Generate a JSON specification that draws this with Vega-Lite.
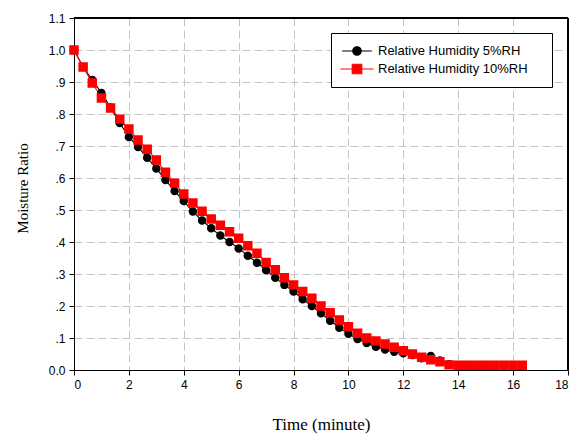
{
  "$schema": "https://vega.github.io/schema/vega-lite/v6.json",
  "autosize": {"type": "none"},
  "padding": {"left": 74, "top": 18, "right": 8, "bottom": 64},
  "width": 494,
  "height": 352,
  "background": "white",
  "config": {
    "view": {"stroke": "black", "strokeWidth": 1},
    "axis": {
      "domainColor": "black",
      "tickColor": "black",
      "tickSize": 5,
      "labelFont": "Liberation Sans",
      "labelFontSize": 12,
      "labelColor": "black",
      "titleFont": "Liberation Serif",
      "titleFontWeight": "normal",
      "titleColor": "black",
      "gridColor": "#c4c4c4",
      "gridDash": [8, 4],
      "gridWidth": 1
    },
    "legend": {
      "orient": "none",
      "legendX": 257,
      "legendY": 15,
      "padding": 10,
      "strokeColor": "black",
      "fillColor": "white",
      "cornerRadius": 0,
      "labelFont": "Liberation Sans",
      "labelFontSize": 13,
      "labelColor": "black",
      "labelLimit": 300,
      "symbolSize": 196,
      "symbolOffset": 7,
      "labelOffset": 12,
      "rowPadding": 2,
      "symbolStrokeWidth": 1.2
    }
  },
  "data": {
    "values": [
      {"t": 0, "mr": 1.0, "series": "Relative Humidity 5%RH"},
      {"t": 0.333, "mr": 0.947, "series": "Relative Humidity 5%RH"},
      {"t": 0.667, "mr": 0.906, "series": "Relative Humidity 5%RH"},
      {"t": 1.0, "mr": 0.866, "series": "Relative Humidity 5%RH"},
      {"t": 1.333, "mr": 0.82, "series": "Relative Humidity 5%RH"},
      {"t": 1.667, "mr": 0.772, "series": "Relative Humidity 5%RH"},
      {"t": 2.0, "mr": 0.728, "series": "Relative Humidity 5%RH"},
      {"t": 2.333, "mr": 0.697, "series": "Relative Humidity 5%RH"},
      {"t": 2.667, "mr": 0.663, "series": "Relative Humidity 5%RH"},
      {"t": 3.0, "mr": 0.63, "series": "Relative Humidity 5%RH"},
      {"t": 3.333, "mr": 0.594, "series": "Relative Humidity 5%RH"},
      {"t": 3.667, "mr": 0.559, "series": "Relative Humidity 5%RH"},
      {"t": 4.0, "mr": 0.528, "series": "Relative Humidity 5%RH"},
      {"t": 4.333, "mr": 0.495, "series": "Relative Humidity 5%RH"},
      {"t": 4.667, "mr": 0.467, "series": "Relative Humidity 5%RH"},
      {"t": 5.0, "mr": 0.443, "series": "Relative Humidity 5%RH"},
      {"t": 5.333, "mr": 0.42, "series": "Relative Humidity 5%RH"},
      {"t": 5.667, "mr": 0.4, "series": "Relative Humidity 5%RH"},
      {"t": 6.0, "mr": 0.38, "series": "Relative Humidity 5%RH"},
      {"t": 6.333, "mr": 0.357, "series": "Relative Humidity 5%RH"},
      {"t": 6.667, "mr": 0.335, "series": "Relative Humidity 5%RH"},
      {"t": 7.0, "mr": 0.312, "series": "Relative Humidity 5%RH"},
      {"t": 7.333, "mr": 0.288, "series": "Relative Humidity 5%RH"},
      {"t": 7.667, "mr": 0.266, "series": "Relative Humidity 5%RH"},
      {"t": 8.0, "mr": 0.245, "series": "Relative Humidity 5%RH"},
      {"t": 8.333, "mr": 0.221, "series": "Relative Humidity 5%RH"},
      {"t": 8.667, "mr": 0.2, "series": "Relative Humidity 5%RH"},
      {"t": 9.0, "mr": 0.177, "series": "Relative Humidity 5%RH"},
      {"t": 9.333, "mr": 0.154, "series": "Relative Humidity 5%RH"},
      {"t": 9.667, "mr": 0.132, "series": "Relative Humidity 5%RH"},
      {"t": 10.0, "mr": 0.113, "series": "Relative Humidity 5%RH"},
      {"t": 10.333, "mr": 0.097, "series": "Relative Humidity 5%RH"},
      {"t": 10.667, "mr": 0.084, "series": "Relative Humidity 5%RH"},
      {"t": 11.0, "mr": 0.073, "series": "Relative Humidity 5%RH"},
      {"t": 11.333, "mr": 0.064, "series": "Relative Humidity 5%RH"},
      {"t": 11.667, "mr": 0.057, "series": "Relative Humidity 5%RH"},
      {"t": 12.0, "mr": 0.052, "series": "Relative Humidity 5%RH"},
      {"t": 12.333, "mr": 0.047, "series": "Relative Humidity 5%RH"},
      {"t": 12.667, "mr": 0.037, "series": "Relative Humidity 5%RH"},
      {"t": 13.0, "mr": 0.044, "series": "Relative Humidity 5%RH"},
      {"t": 13.333, "mr": 0.03, "series": "Relative Humidity 5%RH"},
      {"t": 13.667, "mr": 0.018, "series": "Relative Humidity 5%RH"},
      {"t": 14.0, "mr": 0.014, "series": "Relative Humidity 5%RH"},
      {"t": 14.333, "mr": 0.014, "series": "Relative Humidity 5%RH"},
      {"t": 14.667, "mr": 0.014, "series": "Relative Humidity 5%RH"},
      {"t": 15.0, "mr": 0.014, "series": "Relative Humidity 5%RH"},
      {"t": 15.333, "mr": 0.014, "series": "Relative Humidity 5%RH"},
      {"t": 15.667, "mr": 0.014, "series": "Relative Humidity 5%RH"},
      {"t": 16.0, "mr": 0.014, "series": "Relative Humidity 5%RH"},
      {"t": 16.333, "mr": 0.014, "series": "Relative Humidity 5%RH"},
      {"t": 0, "mr": 1.0, "series": "Relative Humidity 10%RH"},
      {"t": 0.333, "mr": 0.947, "series": "Relative Humidity 10%RH"},
      {"t": 0.667, "mr": 0.897, "series": "Relative Humidity 10%RH"},
      {"t": 1.0, "mr": 0.85, "series": "Relative Humidity 10%RH"},
      {"t": 1.333, "mr": 0.819, "series": "Relative Humidity 10%RH"},
      {"t": 1.667, "mr": 0.784, "series": "Relative Humidity 10%RH"},
      {"t": 2.0, "mr": 0.753, "series": "Relative Humidity 10%RH"},
      {"t": 2.333, "mr": 0.719, "series": "Relative Humidity 10%RH"},
      {"t": 2.667, "mr": 0.69, "series": "Relative Humidity 10%RH"},
      {"t": 3.0, "mr": 0.656, "series": "Relative Humidity 10%RH"},
      {"t": 3.333, "mr": 0.618, "series": "Relative Humidity 10%RH"},
      {"t": 3.667, "mr": 0.584, "series": "Relative Humidity 10%RH"},
      {"t": 4.0, "mr": 0.55, "series": "Relative Humidity 10%RH"},
      {"t": 4.333, "mr": 0.522, "series": "Relative Humidity 10%RH"},
      {"t": 4.667, "mr": 0.496, "series": "Relative Humidity 10%RH"},
      {"t": 5.0, "mr": 0.472, "series": "Relative Humidity 10%RH"},
      {"t": 5.333, "mr": 0.452, "series": "Relative Humidity 10%RH"},
      {"t": 5.667, "mr": 0.432, "series": "Relative Humidity 10%RH"},
      {"t": 6.0, "mr": 0.412, "series": "Relative Humidity 10%RH"},
      {"t": 6.333, "mr": 0.388, "series": "Relative Humidity 10%RH"},
      {"t": 6.667, "mr": 0.365, "series": "Relative Humidity 10%RH"},
      {"t": 7.0, "mr": 0.336, "series": "Relative Humidity 10%RH"},
      {"t": 7.333, "mr": 0.313, "series": "Relative Humidity 10%RH"},
      {"t": 7.667, "mr": 0.288, "series": "Relative Humidity 10%RH"},
      {"t": 8.0, "mr": 0.266, "series": "Relative Humidity 10%RH"},
      {"t": 8.333, "mr": 0.245, "series": "Relative Humidity 10%RH"},
      {"t": 8.667, "mr": 0.224, "series": "Relative Humidity 10%RH"},
      {"t": 9.0, "mr": 0.2, "series": "Relative Humidity 10%RH"},
      {"t": 9.333, "mr": 0.179, "series": "Relative Humidity 10%RH"},
      {"t": 9.667, "mr": 0.156, "series": "Relative Humidity 10%RH"},
      {"t": 10.0, "mr": 0.135, "series": "Relative Humidity 10%RH"},
      {"t": 10.333, "mr": 0.115, "series": "Relative Humidity 10%RH"},
      {"t": 10.667, "mr": 0.1, "series": "Relative Humidity 10%RH"},
      {"t": 11.0, "mr": 0.091, "series": "Relative Humidity 10%RH"},
      {"t": 11.333, "mr": 0.081, "series": "Relative Humidity 10%RH"},
      {"t": 11.667, "mr": 0.071, "series": "Relative Humidity 10%RH"},
      {"t": 12.0, "mr": 0.06, "series": "Relative Humidity 10%RH"},
      {"t": 12.333, "mr": 0.05, "series": "Relative Humidity 10%RH"},
      {"t": 12.667, "mr": 0.04, "series": "Relative Humidity 10%RH"},
      {"t": 13.0, "mr": 0.032, "series": "Relative Humidity 10%RH"},
      {"t": 13.333, "mr": 0.026, "series": "Relative Humidity 10%RH"},
      {"t": 13.667, "mr": 0.016, "series": "Relative Humidity 10%RH"},
      {"t": 14.0, "mr": 0.015, "series": "Relative Humidity 10%RH"},
      {"t": 14.333, "mr": 0.015, "series": "Relative Humidity 10%RH"},
      {"t": 14.667, "mr": 0.015, "series": "Relative Humidity 10%RH"},
      {"t": 15.0, "mr": 0.015, "series": "Relative Humidity 10%RH"},
      {"t": 15.333, "mr": 0.015, "series": "Relative Humidity 10%RH"},
      {"t": 15.667, "mr": 0.015, "series": "Relative Humidity 10%RH"},
      {"t": 16.0, "mr": 0.015, "series": "Relative Humidity 10%RH"},
      {"t": 16.333, "mr": 0.015, "series": "Relative Humidity 10%RH"}
    ]
  },
  "encoding": {
    "x": {
      "field": "t", "type": "quantitative",
      "scale": {"domain": [0, 18], "nice": false, "zero": false},
      "axis": {"title": "Time (minute)", "titleFontSize": 17, "titlePadding": 26, "values": [0, 2, 4, 6, 8, 10, 12, 14, 16, 18], "labelPadding": 4, "format": "d"}
    },
    "y": {
      "field": "mr", "type": "quantitative",
      "scale": {"domain": [0, 1.1], "nice": false},
      "axis": {"title": "Moisture Ratio", "titleFontSize": 15, "titlePadding": 18, "titleY": 170, "values": [0, 0.1, 0.2, 0.3, 0.4, 0.5, 0.6, 0.7, 0.8, 0.9, 1.0, 1.1], "labelPadding": 4,
        "labelExpr": "datum.value == 0 ? '0.0' : (datum.value >= 0.95 ? format(datum.value, '.1f') : replace(format(datum.value, '.1f'), '0.', '.'))"}
    }
  },
  "layer": [
    {
      "mark": {"type": "line", "strokeWidth": 1.1},
      "encoding": {
        "stroke": {
          "field": "series", "type": "nominal",
          "scale": {"domain": ["Relative Humidity 5%RH", "Relative Humidity 10%RH"], "range": ["black", "#ff0000"]},
          "legend": {"title": null, "labelExpr": "datum.label + '\u00a0\u00a0\u00a0\u00a0\u200b'"}
        }
      }
    },
    {
      "mark": {"type": "point", "filled": true, "opacity": 1, "strokeWidth": 0},
      "encoding": {
        "fill": {
          "field": "series", "type": "nominal",
          "scale": {"domain": ["Relative Humidity 5%RH", "Relative Humidity 10%RH"], "range": ["black", "#ff0000"]},
          "legend": {"title": null, "labelExpr": "datum.label + '\u00a0\u00a0\u00a0\u00a0\u200b'"}
        },
        "stroke": {
          "field": "series", "type": "nominal",
          "scale": {"domain": ["Relative Humidity 5%RH", "Relative Humidity 10%RH"], "range": ["black", "#ff0000"]},
          "legend": {"title": null, "labelExpr": "datum.label + '\u00a0\u00a0\u00a0\u00a0\u200b'"}
        },
        "shape": {
          "field": "series", "type": "nominal",
          "scale": {"domain": ["Relative Humidity 5%RH", "Relative Humidity 10%RH"], "range": ["M-2.1,0H2.1M-0.6,0A0.6,0.6,0,1,1,0.6,0A0.6,0.6,0,1,1,-0.6,0Z", "M-2.1,0H2.1M-0.6,-0.6H0.6V0.6H-0.6Z"]},
          "legend": {"title": null, "labelExpr": "datum.label + '\u00a0\u00a0\u00a0\u00a0\u200b'"}
        },
        "size": {
          "field": "series", "type": "nominal",
          "scale": {"domain": ["Relative Humidity 5%RH", "Relative Humidity 10%RH"], "range": [200, 250]},
          "legend": null
        }
      }
    },
    {
      "mark": {"type": "rule", "color": "black", "strokeWidth": 1},
      "encoding": {
        "x": {"datum": 0, "type": "quantitative"},
        "x2": {"datum": 18},
        "y": {"datum": 1.1, "type": "quantitative"}
      }
    },
    {
      "mark": {"type": "rule", "color": "black", "strokeWidth": 1},
      "encoding": {
        "x": {"datum": 18, "type": "quantitative"},
        "y": {"datum": 0, "type": "quantitative"},
        "y2": {"datum": 1.1}
      }
    }
  ]
}
